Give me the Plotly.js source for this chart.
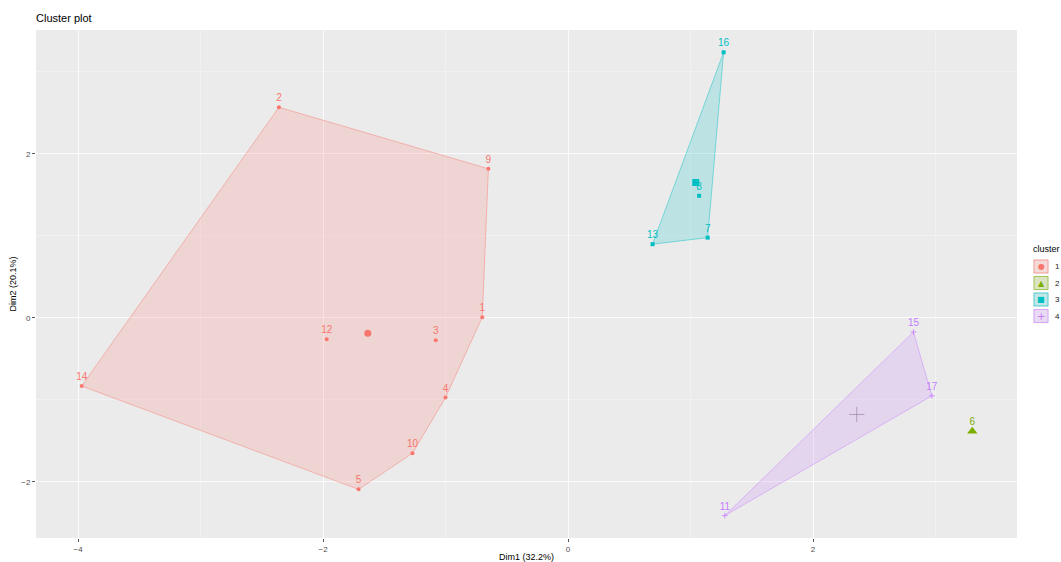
<!DOCTYPE html>
<html><head><meta charset="utf-8">
<script src="https://cdn.plot.ly/plotly-3.0.1.min.js"></script>
<style>html,body{margin:0;padding:0;background:#fff}#chart{width:1061px;height:562px}</style>
</head><body><div id="chart"></div>
<script>
// ---- data ----
const obsLabels = ['1','2','3','4','5','6','7','8','9','10','11','12','13','14','15','16','17'];
const dim1 = [-0.70,-2.36,-1.08,-1.00,-1.71, 3.30, 1.14, 1.07,-0.65,-1.27, 1.28,-1.97, 0.69,-3.97, 2.82, 1.27, 2.97];
const dim2 = [ 0.01, 2.57,-0.27,-0.97,-2.09,-1.38, 0.98, 1.49, 1.82,-1.65,-2.41,-0.26, 0.90,-0.83,-0.17, 3.24,-0.95];
const clusterOf = ['1','1','1','1','1','2','3','3','1','1','4','1','3','1','4','3','4'];
const clusterNames = ['1','2','3','4'];
const clusterColors = ['#F8766D','#7CAE00','#00BFC4','#C77CFF'];
const clusterSymbols = ['circle','triangle-up','square','cross-thin'];
const chartTitle = 'Cluster plot';
const xTitle = 'Dim1 (32.2%)';
const yTitle = 'Dim2 (20.1%)';
const legendTitle = 'cluster';

// ---- helpers ----
function rgba(hex, a){
  const n = parseInt(hex.slice(1),16);
  return `rgba(${(n>>16)&255},${(n>>8)&255},${n&255},${a})`;
}
function hull(pts){
  if (pts.length < 3) return pts.slice();
  const p = pts.slice().sort((a,b)=>a[0]-b[0]||a[1]-b[1]);
  const cross=(o,a,b)=>(a[0]-o[0])*(b[1]-o[1])-(a[1]-o[1])*(b[0]-o[0]);
  const lo=[],up=[];
  for(const q of p){while(lo.length>=2&&cross(lo[lo.length-2],lo[lo.length-1],q)<=0)lo.pop();lo.push(q);}
  for(let i=p.length-1;i>=0;i--){const q=p[i];while(up.length>=2&&cross(up[up.length-2],up[up.length-1],q)<=0)up.pop();up.push(q);}
  up.pop();lo.pop();
  return lo.concat(up);
}

const traces = [];
const FONT = 'Liberation Sans, Arial, sans-serif';

// hulls
clusterNames.forEach((c,ci)=>{
  const pts=[];
  clusterOf.forEach((k,i)=>{ if(k===c) pts.push([dim1[i],dim2[i]]); });
  if (pts.length<3) return;
  const h = hull(pts); h.push(h[0]);
  traces.push({type:'scatter',mode:'lines',x:h.map(p=>p[0]),y:h.map(p=>p[1]),
    fill:'toself',fillcolor:rgba(clusterColors[ci],0.2),
    line:{color:rgba(clusterColors[ci],0.75),width:0.6},hoverinfo:'skip',showlegend:false});
});

// points + labels
clusterNames.forEach((c,ci)=>{
  const xs=[],ys=[],ts=[];
  clusterOf.forEach((k,i)=>{ if(k===c){xs.push(dim1[i]);ys.push(dim2[i]);ts.push(obsLabels[i]);} });
  const isCross = clusterSymbols[ci].indexOf('thin')>=0;
  traces.push({type:'scatter',mode:'markers+text',x:xs,y:ys,text:ts,
    textposition:'top center',textfont:{family:FONT,size:10,color:clusterColors[ci]},
    marker:{symbol:clusterSymbols[ci],size:isCross?4:4,color:clusterColors[ci],
      line:{color:clusterColors[ci],width:isCross?0.8:0}},
    cliponaxis:false,showlegend:false});
  // centroid
  const mx = xs.reduce((a,b)=>a+b,0)/xs.length, my = ys.reduce((a,b)=>a+b,0)/ys.length;
  traces.push({type:'scatter',mode:'markers',x:[mx],y:[my],
    marker:{symbol:clusterSymbols[ci],size:isCross?11:(ci===1?9:7),color:clusterColors[ci],
      line:{color:isCross?'#9A85A6':clusterColors[ci],width:isCross?0.7:0}},showlegend:false,hoverinfo:'skip'});
});

// ---- layout ----
const W=1061,H=562,L=36,R=1017,T=30,B=538;
const px=(p)=>(p-L)/(R-L), py=(q)=>(B-q)/(B-T);
const shapes=[], annotations=[];
annotations.push({xref:'paper',yref:'paper',x:px(1031),y:py(249),xanchor:'left',yanchor:'middle',
  text:legendTitle,showarrow:false,font:{family:FONT,size:9,color:'#000'}});
const legendY=[266.5,283,299.5,316];
const glyph={'circle':'●','triangle-up':'▲','square':'■','cross-thin':'+'};
clusterNames.forEach((c,ci)=>{
  const cy=legendY[ci];
  shapes.push({type:'rect',xref:'paper',yref:'paper',x0:px(1033),x1:px(1049),y0:py(cy+7.5),y1:py(cy-7.5),
    fillcolor:'#F2F2F2',line:{width:0}});
  shapes.push({type:'rect',xref:'paper',yref:'paper',x0:px(1034),x1:px(1048),y0:py(cy+6.5),y1:py(cy-6.5),
    fillcolor:rgba(clusterColors[ci],0.2),line:{color:rgba(clusterColors[ci],0.75),width:0.8}});
  annotations.push({xref:'paper',yref:'paper',x:px(1041),y:py(cy),xanchor:'center',yanchor:'middle',
    text:glyph[clusterSymbols[ci]],showarrow:false,font:{family:'DejaVu Sans',size:ci===3?10:8,color:clusterColors[ci]}});
  annotations.push({xref:'paper',yref:'paper',x:px(1053),y:py(cy),xanchor:'left',yanchor:'middle',
    text:c,showarrow:false,font:{family:FONT,size:8,color:'#1A1A1A'}});
});

const axisCommon = {
  showgrid:true, gridcolor:'#FFFFFF', gridwidth:0.8, zeroline:false, showline:false,
  ticks:'outside', ticklen:3, tickwidth:1, tickcolor:'#555555',
  tickfont:{family:FONT,size:8,color:'#4D4D4D'},
  minor:{dtick:1, showgrid:true, gridcolor:'#F7F7F7', gridwidth:0.5, ticks:''},
  tick0:0, dtick:2
};
const layout = {
  width:W,height:H,
  margin:{l:L,r:W-R,t:T,b:H-B,autoexpand:false},
  paper_bgcolor:'#FFFFFF', plot_bgcolor:'#EBEBEB',
  showlegend:false,
  title:{text:chartTitle,x:0,xref:'paper',xanchor:'left',y:1-18/H,yref:'container',yanchor:'middle',
    font:{family:FONT,size:11,color:'#000'}},
  xaxis:Object.assign({},axisCommon,{range:[-4.343,3.665],
    title:{text:xTitle,standoff:3,font:{family:FONT,size:9,color:'#000'}}}),
  yaxis:Object.assign({},axisCommon,{range:[-2.683,3.512],
    title:{text:yTitle,standoff:3,font:{family:FONT,size:9,color:'#000'}}}),
  shapes:shapes, annotations:annotations
};
Plotly.newPlot('chart',traces,layout,{displayModeBar:false,staticPlot:true});
</script>
</body></html>
